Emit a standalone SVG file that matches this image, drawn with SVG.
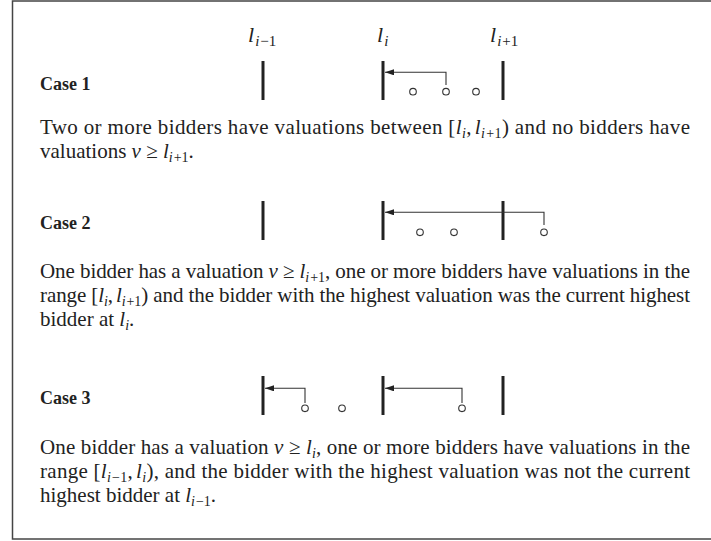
<svg xmlns="http://www.w3.org/2000/svg" width="711" height="541" viewBox="0 0 711 541">
<style>
.body{font-family:"Liberation Serif","Times New Roman",serif;font-size:21px;fill:#222}
.lab{font-family:"Liberation Serif","Times New Roman",serif;font-size:18px;font-weight:bold;fill:#222}
.m{font-style:italic}
.s{font-size:14px}
.si{font-size:14px;font-style:italic}
.hdr{font-family:"Liberation Serif","Times New Roman",serif;font-size:22px;fill:#222}
.hs{font-size:15px}
.hsi{font-size:15px;font-style:italic}
.bar{stroke:#222;stroke-width:3;fill:none}
.arr{stroke:#333;stroke-width:1.1;fill:none}
.dot{stroke:#333;stroke-width:1.1;fill:#fff}
</style>
<defs>
<marker id="ah" viewBox="0 0 9 6" refX="9" refY="3" markerWidth="9" markerHeight="6" markerUnits="userSpaceOnUse" orient="auto">
<path d="M0,0 L9,3 L0,6 z" fill="#222"/>
</marker>
</defs>
<rect x="12.5" y="1" width="740" height="538" fill="none" stroke="#444" stroke-width="1.5"/>

<g id="header">
<text class="hdr" x="248" y="42"><tspan class="m">l</tspan><tspan class="hsi" dy="4" dx="1">i</tspan><tspan class="hs" dx="1">−1</tspan></text>
<text class="hdr" x="377" y="42"><tspan class="m">l</tspan><tspan class="hsi" dy="4" dx="1">i</tspan></text>
<text class="hdr" x="490" y="42"><tspan class="m">l</tspan><tspan class="hsi" dy="4" dx="1">i</tspan><tspan class="hs" dx="1">+1</tspan></text>
</g>

<g id="case1">
<text class="lab" x="40" y="90">Case 1</text>
<line class="bar" x1="263" y1="61" x2="263" y2="100"/>
<line class="bar" x1="383" y1="61" x2="383" y2="100"/>
<line class="bar" x1="503" y1="61" x2="503" y2="100"/>
<circle class="dot" cx="413" cy="91.7" r="3.3"/>
<circle class="dot" cx="446" cy="91.7" r="3.3"/>
<circle class="dot" cx="476" cy="91.7" r="3.3"/>
<text class="body" x="40" y="134" textLength="650" lengthAdjust="spacing">Two or more bidders have valuations between [<tspan class="m">l</tspan><tspan class="si" dy="4">i</tspan><tspan dy="-4">,</tspan><tspan class="m" dx="3">l</tspan><tspan class="si" dy="4">i</tspan><tspan class="s" dx="1">+1</tspan><tspan dy="-4">) and no bidders have</tspan></text>
<text class="body" x="40" y="158">valuations <tspan class="m">v</tspan> ≥ <tspan class="m">l</tspan><tspan class="si" dy="4">i</tspan><tspan class="s" dx="1">+1</tspan><tspan dy="-4">.</tspan></text>
</g>

<g id="case2">
<text class="lab" x="40" y="229">Case 2</text>
<line class="bar" x1="263" y1="201" x2="263" y2="240"/>
<line class="bar" x1="383" y1="201" x2="383" y2="240"/>
<line class="bar" x1="503" y1="201" x2="503" y2="240"/>
<circle class="dot" cx="420" cy="232.3" r="3.3"/>
<circle class="dot" cx="454" cy="232.3" r="3.3"/>
<circle class="dot" cx="544" cy="232.3" r="3.3"/>
<text class="body" x="40" y="278" textLength="650" lengthAdjust="spacing">One bidder has a valuation <tspan class="m">v</tspan> ≥ <tspan class="m">l</tspan><tspan class="si" dy="4">i</tspan><tspan class="s" dx="1">+1</tspan><tspan dy="-4">, one or more bidders have valuations in the</tspan></text>
<text class="body" x="40" y="302" textLength="650" lengthAdjust="spacing">range [<tspan class="m">l</tspan><tspan class="si" dy="4">i</tspan><tspan dy="-4">,</tspan><tspan class="m" dx="3">l</tspan><tspan class="si" dy="4">i</tspan><tspan class="s" dx="1">+1</tspan><tspan dy="-4">) and the bidder with the highest valuation was the current highest</tspan></text>
<text class="body" x="40" y="326">bidder at <tspan class="m">l</tspan><tspan class="si" dy="4">i</tspan><tspan dy="-4">.</tspan></text>
</g>

<g id="case3">
<text class="lab" x="40" y="404">Case 3</text>
<line class="bar" x1="263" y1="376" x2="263" y2="415"/>
<line class="bar" x1="383" y1="376" x2="383" y2="415"/>
<line class="bar" x1="503" y1="376" x2="503" y2="415"/>
<circle class="dot" cx="305" cy="408.3" r="3.3"/>
<circle class="dot" cx="342" cy="408.3" r="3.3"/>
<circle class="dot" cx="462" cy="408.3" r="3.3"/>
<text class="body" x="40" y="454" textLength="650" lengthAdjust="spacing">One bidder has a valuation <tspan class="m">v</tspan> ≥ <tspan class="m">l</tspan><tspan class="si" dy="4">i</tspan><tspan dy="-4">, one or more bidders have valuations in the</tspan></text>
<text class="body" x="40" y="478" textLength="650" lengthAdjust="spacing">range [<tspan class="m">l</tspan><tspan class="si" dy="4">i</tspan><tspan class="s" dx="1">−1</tspan><tspan dy="-4">,</tspan><tspan class="m" dx="3">l</tspan><tspan class="si" dy="4">i</tspan><tspan dy="-4">), and the bidder with the highest valuation was not the current</tspan></text>
<text class="body" x="40" y="502">highest bidder at <tspan class="m">l</tspan><tspan class="si" dy="4">i</tspan><tspan class="s" dx="1">−1</tspan><tspan dy="-4">.</tspan></text>
</g>

<g id="connectors">
<path class="arr" d="M446,85 V72.3 H385" marker-end="url(#ah)"/>
<path class="arr" d="M544,225 V212.3 H385" marker-end="url(#ah)"/>
<path class="arr" d="M305,403 V388.3 H265" marker-end="url(#ah)"/>
<path class="arr" d="M462,403 V388.3 H385" marker-end="url(#ah)"/>
</g>
</svg>
